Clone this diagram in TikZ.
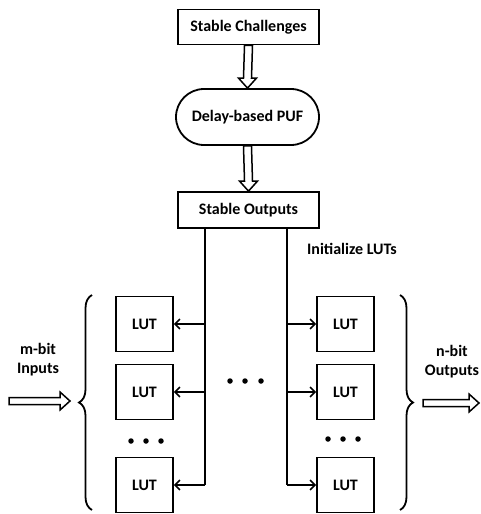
\documentclass[tikz,border=0pt]{standalone}
\usepackage{fontspec}
\setmainfont{Carlito}
\usetikzlibrary{calc,shapes.misc,arrows.meta,decorations.pathreplacing}
\begin{document}
\begin{tikzpicture}[x=1pt,y=-1pt,
  every node/.style={font=\fontsize{16}{19}\selectfont\bfseries},
  box/.style={draw,line width=1.8pt,minimum width=141pt,minimum height=35pt,inner sep=0pt},
  lutbox/.style={draw,line width=1.8pt,minimum width=57pt,minimum height=55pt,inner sep=0pt},
  wire/.style={line width=1.8pt},
  feed/.style={line width=1.8pt,-{Straight Barb[length=5pt,width=10pt,line width=1.5pt]}},
  hollow/.style={draw,line width=1.5pt,fill=white,line join=miter},
  brc/.style={line width=1.8pt,decorate,decoration={brace,amplitude=13pt}},
  dot/.style={fill,circle,inner sep=0pt,minimum size=5.5pt}]
\useasboundingbox (0,0) rectangle (480,514);

\node[box] (sc) at (248.5,27) {Stable Challenges};
\node[draw,line width=1.8pt,rounded rectangle,minimum width=143pt,minimum height=56pt,inner sep=0pt] (pf) at (247.5,117) {Delay-based PUF};
\node[box,minimum height=36pt] (so) at (248.5,210) {Stable Outputs};

% hollow vertical arrows
\draw[hollow] ($(sc.south)+(-4,0)$) -- ($(pf.north)+(-4,-10)$) -- ($(pf.north)+(-9,-10)$) -- (pf.north)
  -- ($(pf.north)+(9,-10)$) -- ($(pf.north)+(4,-10)$) -- ($(sc.south)+(4,0)$) -- cycle;
\draw[hollow] ($(pf.south)+(-4,0)$) -- ($(so.north)+(-4,-10)$) -- ($(so.north)+(-9,-10)$) -- (so.north)
  -- ($(so.north)+(9,-10)$) -- ($(so.north)+(4,-10)$) -- ($(pf.south)+(4,0)$) -- cycle;

\node (init) at (352,249) {Initialize LUTs};

% LUTs
\node[lutbox] (l1) at (144.5,324) {LUT};
\node[lutbox] (l2) at (144.5,392) {LUT};
\node[lutbox] (l3) at (144.5,485) {LUT};
\node[lutbox] (r1) at (345.5,324) {LUT};
\node[lutbox] (r2) at (345.5,392) {LUT};
\node[lutbox] (r3) at (345.5,485) {LUT};

\coordinate (vl) at (205,0);
\coordinate (vr) at (287,0);
\draw[wire] (so.south -| vl) -- (l3.east -| vl);
\draw[wire] (so.south -| vr) -- (r3.west -| vr);
\foreach \n in {l1,l2,l3} \draw[feed] (\n.east -| vl) -- (\n.east);
\foreach \n in {r1,r2,r3} \draw[feed] (\n.west -| vr) -- (\n.west);

% dots
\node[dot] (d1) at (230,381) {};
\node[dot] (d2) at (245,381) {};
\node[dot] (d3) at (261,381) {};
\node[dot] (d4) at (131,441) {};
\node[dot] (d5) at (146,441) {};
\node[dot] (d6) at (161,441) {};
\node[dot] (d7) at (328,439) {};
\node[dot] (d8) at (343,439) {};
\node[dot] (d9) at (358,439) {};

% braces
\draw[brc] (92,510) -- (92,295);
\draw[brc] (400,295) -- (400,510);

% inputs / outputs
\node[align=center] (min) at (38,360) {m-bit\\Inputs};
\node[align=center] (nout) at (452,362) {n-bit\\Outputs};
\coordinate (ia) at (9,401);
\coordinate (ib) at (70,401);
\draw[hollow] ($(ia)+(0,-3.5)$) -- ($(ib)+(-10,-3.5)$) -- ($(ib)+(-10,-9)$) -- (ib) -- ($(ib)+(-10,9)$) -- ($(ib)+(-10,3.5)$) -- ($(ia)+(0,3.5)$) -- cycle;
\coordinate (oa) at (423,403);
\coordinate (ob) at (479,403);
\draw[hollow] ($(oa)+(0,-3.5)$) -- ($(ob)+(-10,-3.5)$) -- ($(ob)+(-10,-9)$) -- (ob) -- ($(ob)+(-10,9)$) -- ($(ob)+(-10,3.5)$) -- ($(oa)+(0,3.5)$) -- cycle;
\end{tikzpicture}
\end{document}
